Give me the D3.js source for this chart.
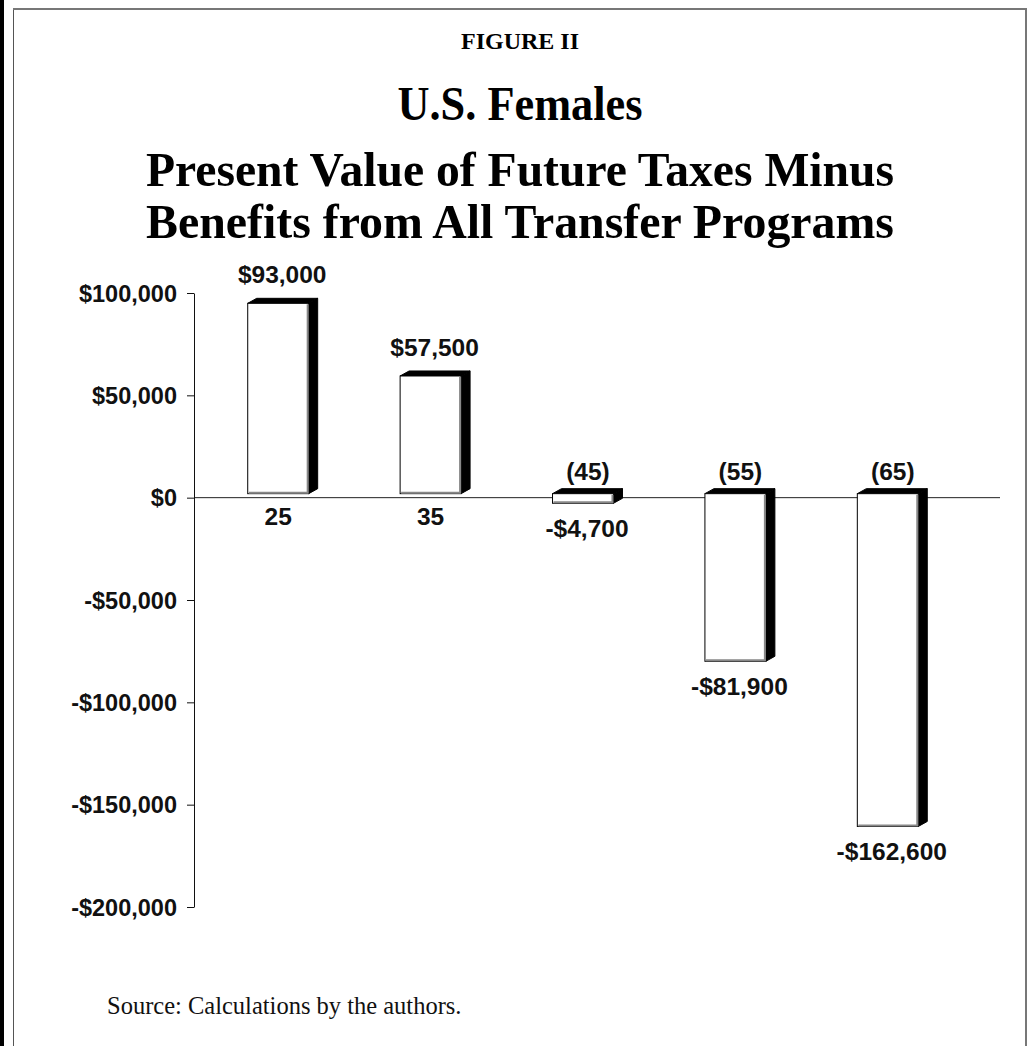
<!DOCTYPE html>
<html>
<head>
<meta charset="utf-8">
<script src="https://cdn.jsdelivr.net/npm/d3@7"></script>
<style>
  html, body { margin: 0; padding: 0; background: #fff; }
  svg { display: block; }
</style>
</head>
<body>
<script>
// Ages at which the present value is measured
const ages = ["25", "35", "45", "55", "65"];
// Present value of future taxes minus benefits (dollars)
const netValues = [93000, 57500, -4700, -81900, -162600];
// Printed value labels
const valueLabels = ["$93,000", "$57,500", "-$4,700", "-$81,900", "-$162,600"];
// Y-axis ticks
const yTicks = [100000, 50000, 0, -50000, -100000, -150000, -200000];
// Title lines
const titleLines = ["U.S. Females", "Present Value of Future Taxes Minus", "Benefits from All Transfer Programs"];

const W = 1028, H = 1046;
const svg = d3.select("body").append("svg").attr("width", W).attr("height", H);

// Page frame
svg.append("rect").attr("x", 0).attr("y", 0).attr("width", 4).attr("height", H).attr("fill", "#000");
svg.append("line").attr("x1", 13.5).attr("x2", 13.5).attr("y1", 9).attr("y2", H)
  .attr("stroke", "#555").attr("stroke-width", 1);
svg.append("line").attr("x1", 13).attr("x2", 1027).attr("y1", 9).attr("y2", 9)
  .attr("stroke", "#777").attr("stroke-width", 2);
svg.append("line").attr("x1", 1026).attr("x2", 1026).attr("y1", 9).attr("y2", H)
  .attr("stroke", "#777").attr("stroke-width", 2);

// Titles (condensed bold serif)
const serif = "'Liberation Serif', 'Times New Roman', serif";
const sans = "'Liberation Sans', Arial, sans-serif";
const cx = 520;

svg.append("text").attr("x", cx).attr("y", 49).attr("text-anchor", "middle")
  .attr("font-family", serif).attr("font-weight", "bold").attr("font-size", 24)
  .attr("textLength", 118).attr("lengthAdjust", "spacingAndGlyphs")
  .text("FIGURE II");

const titleWidths = [245, 748, 748];
const titleY = [120, 186, 238];
titleLines.forEach((t, i) => {
  svg.append("text").attr("x", cx).attr("y", titleY[i]).attr("text-anchor", "middle")
    .attr("font-family", serif).attr("font-weight", "bold").attr("font-size", 49)
    .attr("textLength", titleWidths[i]).attr("lengthAdjust", "spacingAndGlyphs")
    .text(t);
});

// Scales
const axisX = 194;
const y = d3.scaleLinear().domain([-200000, 100000]).range([907, 293]);
const x = d3.scaleBand().domain(ages).range([202, 964]).paddingInner(0.6).paddingOuter(0.3);

const money = d => (d < 0 ? "-" : "") + "$" + d3.format(",")(Math.abs(d));

// Zero line
svg.append("line").attr("x1", axisX).attr("x2", 1000).attr("y1", y(0)).attr("y2", y(0))
  .attr("stroke", "#222").attr("stroke-width", 1);

// Y axis
const yAxis = svg.append("g").attr("transform", `translate(${axisX},0)`)
  .call(d3.axisLeft(y).tickValues(yTicks).tickFormat(money).tickSize(7).tickSizeOuter(0).tickPadding(10));
yAxis.select(".domain").attr("stroke", "#111");
yAxis.selectAll(".tick line").attr("stroke", "#111");
yAxis.selectAll(".tick text").attr("font-family", sans).attr("font-weight", "bold")
  .attr("font-size", 23.5).attr("fill", "#111").attr("dy", "0.35em");

// 3D bars
const dx = 9, dy = 5, lift = 4;
const bars = svg.append("g");
ages.forEach((a, i) => {
  const v = netValues[i];
  const left = x(a), right = x(a) + x.bandwidth();
  const top = Math.min(y(v), y(0)) - lift;
  const bottom = Math.max(y(v), y(0)) - lift;
  const g = bars.append("g");
  // side face
  g.append("path").attr("d", `M${right},${top}L${right + dx},${top - dy}L${right + dx},${bottom - dy}L${right},${bottom}Z`)
    .attr("fill", "#000").attr("stroke", "#000").attr("stroke-width", 1);
  // top face
  g.append("path").attr("d", `M${left},${top}L${left + dx},${top - dy}L${right + dx},${top - dy}L${right},${top}Z`)
    .attr("fill", "#000").attr("stroke", "#000").attr("stroke-width", 1);
  // front face
  g.append("rect").attr("x", left).attr("y", top).attr("width", right - left).attr("height", bottom - top)
    .attr("fill", "#fff").attr("stroke", "#000").attr("stroke-width", 1);
  // shaded right and bottom edges of the front face
  g.append("path").attr("d", `M${right - 1},${top + 1}L${right - 1},${bottom - 1}L${left + 1},${bottom - 1}`)
    .attr("fill", "none").attr("stroke", "#888").attr("stroke-width", 2);

  const c = left + x.bandwidth() / 2;
  const labelFont = sel => sel.attr("font-family", sans).attr("font-weight", "bold")
    .attr("font-size", 24.5).attr("fill", "#111").attr("text-anchor", "middle");
  if (v >= 0) {
    g.append("text").call(labelFont).attr("x", c + 4).attr("y", top - 20).text(valueLabels[i]);
    g.append("text").call(labelFont).attr("x", c).attr("y", y(0) + 27).text(a);
  } else {
    g.append("text").call(labelFont).attr("x", c + 5).attr("y", y(0) - 18).text(`(${a})`);
    g.append("text").call(labelFont).attr("x", c + 4).attr("y", bottom + 34).text(valueLabels[i]);
  }
});

// Source note
svg.append("text").attr("x", 107).attr("y", 1014)
  .attr("font-family", serif).attr("font-size", 24.5).attr("fill", "#111")
  .text("Source: Calculations by the authors.");
</script>
</body>
</html>
